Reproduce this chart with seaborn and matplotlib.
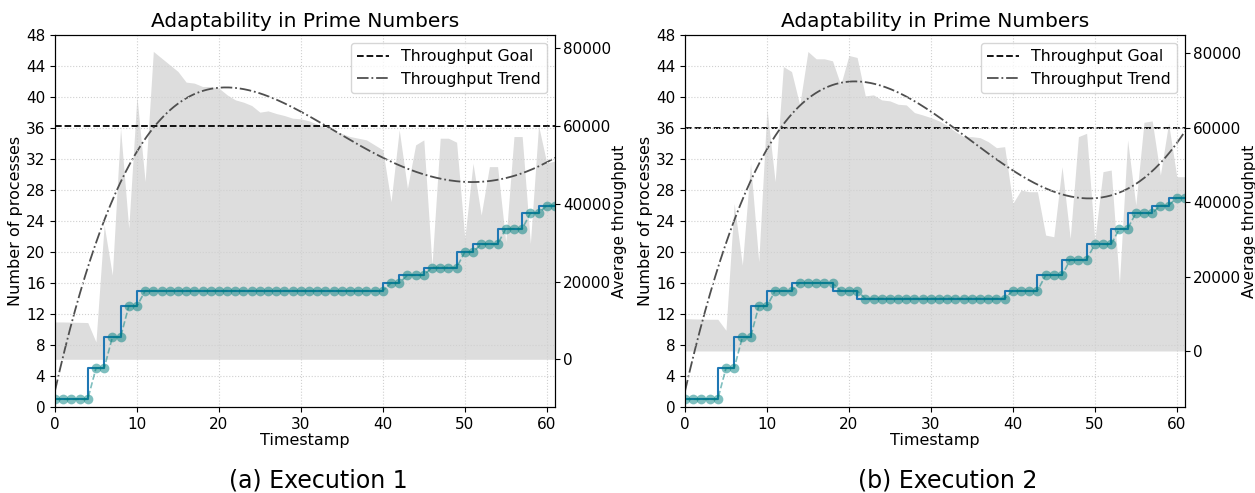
import matplotlib
matplotlib.use("Agg")
import matplotlib.pyplot as plt
import seaborn as sns
import numpy as np

# Data
timestamps = np.arange(62)

procs_a = [1, 1, 1, 1, 1, 5, 5, 9, 9, 13, 13,
           15, 15, 15, 15, 15, 15, 15, 15, 15, 15, 15, 15, 15, 15, 15,
           15, 15, 15, 15, 15, 15, 15, 15, 15, 15, 15, 15, 15, 15, 15,
           16, 16, 17, 17, 17, 18, 18, 18, 18, 20, 20, 21, 21, 21,
           23, 23, 23, 25, 25, 26, 26]
thr_a = [9600, 9600, 9550, 9500, 9450, 4470, 34530, 21650, 59440, 33670,
         67600, 45700, 79200, 77480, 75760, 74050, 71300, 71040, 70180, 70180,
         69750, 68030, 66740, 66140, 65280, 63570, 63900, 63220, 62700, 62020,
         61850, 61330, 60470, 59610, 58760, 58070, 57300, 56870, 56440, 55150,
         53860, 40540, 59010, 43980, 55150, 56440, 24220, 56870, 56870, 55840,
         31100, 50420, 37110, 49560, 49560, 30240, 57300, 57300, 29810, 60130,
         50500, 51000]

procs_b = [1, 1, 1, 1, 1, 5, 5, 9, 9, 13, 13, 15, 15, 15,
           16, 16, 16, 16, 16, 15, 15, 15,
           14, 14, 14, 14, 14, 14, 14, 14, 14, 14, 14, 14, 14, 14, 14, 14, 14, 14,
           15, 15, 15, 15, 17, 17, 17, 19, 19, 19, 21, 21, 21,
           23, 23, 25, 25, 25, 26, 26, 27, 27]
thr_b = [8710, 8620, 8580, 8530, 8530, 5570, 39660, 23070, 50430, 23960,
         65240, 45490, 76440, 75100, 66130, 80490, 78520, 78520, 77980, 71520,
         79420, 78880, 68560, 68830, 67480, 67210, 66310, 66130, 64070, 63440,
         62720, 61830, 60570, 58950, 57600, 57600, 57330, 56250, 54640, 54910,
         39660, 43250, 42800, 42800, 31150, 30700, 49540, 30250, 57600, 58500,
         29790, 48190, 48630, 18130, 56710, 39210, 61460, 61830, 47290, 61200,
         46840, 46840]

throughput_goal = 60000
trend_degree = 4

fig = plt.figure(figsize=(12.55, 4.93), dpi=100)
ax_a = fig.add_axes([0.0438, 0.1744, 0.3984, 0.7546])
ax_b = fig.add_axes([0.5458, 0.1744, 0.3984, 0.7546])


def draw(ax, procs, thr, ylim2, caption, cx):
    ax2 = ax.twinx()
    ax.set_zorder(ax2.get_zorder() + 1)
    ax.patch.set_visible(False)

    # throughput area + goal + fitted trend
    ax2.fill_between(timestamps, 0, thr, color="#dddddd", lw=0)
    goal = ax2.axhline(throughput_goal, color="black", ls="--", lw=1.3)
    coef = np.polyfit(timestamps, thr, trend_degree)
    tt = np.linspace(timestamps[0], timestamps[-1], 300)
    sns.lineplot(x=tt, y=np.polyval(coef, tt), ax=ax2, color="#4f4f4f",
                 linestyle="-.", lw=1.3)
    trend = ax2.lines[-1]
    ax2.set_ylim(*ylim2)
    ax2.set_yticks([0, 20000, 40000, 60000, 80000])
    ax2.set_ylabel("Average throughput", fontsize=11, labelpad=0)
    ax2.tick_params(labelsize=11, pad=2.5)

    # processes
    sns.lineplot(x=timestamps, y=procs, ax=ax, drawstyle="steps-pre",
                 color="#1f77b4", lw=1.5)
    sns.lineplot(x=timestamps, y=procs, ax=ax, marker="o", linestyle="--",
                 color="teal", alpha=0.5, markersize=7, markeredgewidth=0,
                 lw=1.2)
    ax.set_xlim(0, 61)
    ax.set_ylim(0, 48)
    ax.set_yticks(range(0, 49, 4))
    ax.set_xticks(range(0, 61, 10))
    ax.grid(True, ls=":", color="#d0d0d0", lw=0.8)
    ax.set_xlabel("Timestamp", fontsize=11.5, labelpad=1)
    ax.set_ylabel("Number of processes", fontsize=11.5, labelpad=2)
    ax.set_title("Adaptability in Prime Numbers", fontsize=14.5, pad=6)
    ax.tick_params(labelsize=11)
    ax.legend([goal, trend], ["Throughput Goal", "Throughput Trend"],
              loc="upper right", fontsize=11.3)
    fig.text(cx, 0.026, caption, ha="center", va="center", fontsize=17)


draw(ax_a, procs_a, thr_a, (-12280, 83420), "(a) Execution 1", 0.2534)
draw(ax_b, procs_b, thr_b, (-15060, 84920), "(b) Execution 2", 0.7554)

fig.savefig("out.png", dpi=100)
